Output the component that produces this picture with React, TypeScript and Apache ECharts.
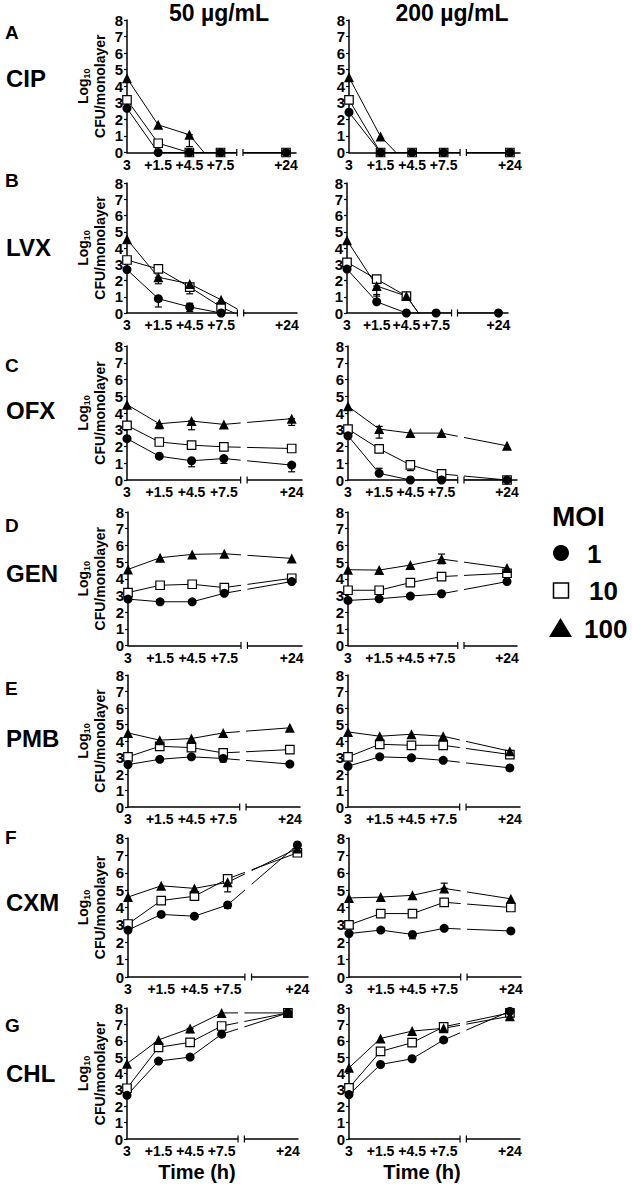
import React, { useEffect, useRef } from 'react';
import * as echarts from 'echarts';

// ---------- axis definitions ----------
const TIME_POS = [0, 1, 2, 3, 5.1];
const TIME_LABELS = ['3', '+1.5', '+4.5', '+7.5', '+24'];
const X_MAX = 5.42;
const BREAK_START = 3.52;
const BREAK_END = 3.72;
const Y_MIN = 0;
const Y_MAX = 8;
const Y_STEP = 1;

const MOI_LABELS = ['1', '10', '100'];
const DRUGS = ['CIP', 'LVX', 'OFX', 'GEN', 'PMB', 'CXM', 'CHL'];
const LETTERS = ['A', 'B', 'C', 'D', 'E', 'F', 'G'];
const CONCS = ['50 µg/mL', '200 µg/mL'];

// ---------- data: rows = MOI 1, MOI 10, MOI 100; negative = below detection ----------
const CIP_50 = [
  [2.67, 0, 0, 0, 0],
  [3.18, 0.56, 0, 0, 0],
  [4.48, 1.67, 1.07, -1.2, -1.2],
];
const CIP_200 = [
  [2.43, 0, 0, 0, 0],
  [3.18, 0, 0, 0, 0],
  [4.54, 0.96, -1, -1, -1],
];
const LVX_50 = [
  [2.67, 0.88, 0.37, 0, -1.5],
  [3.26, 2.71, 1.59, 0.37, -1.5],
  [4.54, 2.2, 1.79, 0.81, -1.5],
];
const LVX_200 = [
  [2.7, 0.69, 0, 0, 0],
  [3.12, 2.08, 1.04, -1.5, -1.5],
  [4.47, 1.66, 1.04, -1.5, -1.5],
];
const OFX_50 = [
  [2.47, 1.42, 1.15, 1.28, 0.89],
  [3.26, 2.27, 2.08, 1.98, 1.88],
  [4.5, 3.36, 3.52, 3.32, 3.66],
];
const OFX_200 = [
  [2.64, 0.4, 0, 0, 0],
  [3.04, 1.86, 0.9, 0.36, 0],
  [4.4, 3.04, 2.8, 2.8, 2.04],
];
const GEN_50 = [
  [2.78, 2.62, 2.62, 3.13, 3.83],
  [3.17, 3.61, 3.67, 3.47, 4.03],
  [4.56, 5.26, 5.46, 5.5, 5.22],
];
const GEN_200 = [
  [2.7, 2.8, 2.96, 3.1, 3.83],
  [3.31, 3.31, 3.77, 4.13, 4.33],
  [4.54, 4.52, 4.82, 5.18, 4.64],
];
const PMB_50 = [
  [2.57, 2.89, 3.04, 2.94, 2.6],
  [3.04, 3.68, 3.6, 3.28, 3.48],
  [4.49, 4.05, 4.15, 4.49, 4.8],
];
const PMB_200 = [
  [2.47, 3.04, 2.98, 2.83, 2.37],
  [3.04, 3.8, 3.74, 3.74, 3.18],
  [4.55, 4.29, 4.41, 4.29, 3.38],
];
const CXM_50 = [
  [2.7, 3.6, 3.5, 4.15, 7.6],
  [3.05, 4.4, 4.65, 5.65, 7.15],
  [4.6, 5.25, 5.1, 5.45, 7.4],
];
const CXM_200 = [
  [2.5, 2.7, 2.45, 2.8, 2.65],
  [3.0, 3.65, 3.65, 4.3, 4.0],
  [4.55, 4.6, 4.7, 5.1, 4.5],
];
const CHL_50 = [
  [2.67, 4.76, 5.0, 6.4, 7.7],
  [3.1, 5.6, 5.9, 6.9, 7.7],
  [4.6, 6.05, 6.75, 7.7, 7.7],
];
const CHL_200 = [
  [2.71, 4.55, 4.9, 6.05, 7.8],
  [3.12, 5.35, 5.88, 6.85, 7.7],
  [4.35, 6.14, 6.59, 6.76, 7.5],
];

// error bars: [moiIndex, timeIndex, low, high]
const CIP_50_ERR = [[2, 2, 0.36, 1.07]];
const CIP_200_ERR: number[][] = [];
const LVX_50_ERR = [[0, 1, 0.37, 0.88], [0, 2, 0.1, 0.6], [2, 1, 1.8, 2.2], [1, 2, 1.18, 1.59]];
const LVX_200_ERR = [[2, 1, 1.04, 1.66], [0, 1, 0.69, 1.14]];
const OFX_50_ERR = [[2, 1, 3.06, 3.36], [2, 2, 3.0, 3.52], [2, 4, 3.26, 3.66], [0, 2, 0.79, 1.15], [0, 3, 0.99, 1.28], [0, 4, 0.49, 0.89]];
const OFX_200_ERR = [[2, 1, 2.5, 3.2], [1, 2, 0.56, 0.9], [0, 1, 0.4, 0.7]];
const GEN_50_ERR: number[][] = [];
const GEN_200_ERR = [[2, 3, 4.9, 5.48]];
const PMB_50_ERR = [[0, 3, 2.73, 2.94]];
const PMB_200_ERR: number[][] = [];
const CXM_50_ERR = [[2, 3, 4.9, 5.45], [0, 3, 3.95, 4.15]];
const CXM_200_ERR = [[2, 3, 5.1, 5.4], [0, 2, 2.2, 2.45]];
const CHL_50_ERR = [[2, 2, 6.5, 6.75]];
const CHL_200_ERR: number[][] = [];

const PANEL_DATA = [
  [CIP_50, CIP_200], [LVX_50, LVX_200], [OFX_50, OFX_200], [GEN_50, GEN_200],
  [PMB_50, PMB_200], [CXM_50, CXM_200], [CHL_50, CHL_200],
];
const PANEL_ERR = [
  [CIP_50_ERR, CIP_200_ERR], [LVX_50_ERR, LVX_200_ERR], [OFX_50_ERR, OFX_200_ERR], [GEN_50_ERR, GEN_200_ERR],
  [PMB_50_ERR, PMB_200_ERR], [CXM_50_ERR, CXM_200_ERR], [CHL_50_ERR, CHL_200_ERR],
];

// ---------- layout ----------
const ROW_TOP = [20, 183, 346, 512, 675, 838, 1008];
const ROW_H = [132.5, 130, 134, 133.5, 132, 139, 131];
const COL_LEFT = [[127, 349], [127, 347], [127, 348], [128, 348], [128, 348], [128, 349], [127, 349]];
const COL_W = [[169, 171], [170, 161], [175, 169], [174, 169], [172, 172], [180, 172], [171, 171]];
const LETTER_Y = [32, 180, 365, 525, 688, 837, 1025];
const NAME_Y = [78, 247, 410, 573, 738, 902, 1073];

const FONT = '"Liberation Sans", Arial, Helvetica, sans-serif';
const SYMBOLS = ['circle', 'rect', 'triangle'];
const SYM_SIZE = [9, 8.5, 10];
const DRAW_ORDER = [1, 2, 0];

function buildOption() {
  const grids: any[] = [];
  const xAxes: any[] = [];
  const yAxes: any[] = [];
  const series: any[] = [];
  const graphic: any[] = [];

  PANEL_DATA.forEach((pair, r) => {
    pair.forEach((data, c) => {
      const idx = grids.length;
      grids.push({
        left: COL_LEFT[r][c], top: ROW_TOP[r], width: COL_W[r][c], height: ROW_H[r],
        containLabel: false, outerBoundsMode: 'none',
      });
      xAxes.push({
        gridIndex: idx, type: 'value', min: 0, max: X_MAX,
        splitLine: { show: false },
        axisTick: { show: false },
        axisLine: { show: true, onZero: false, lineStyle: { color: '#000', width: 1.5 } },
        axisLabel: {
          customValues: TIME_POS,
          formatter: (v: number) => {
            const i = TIME_POS.indexOf(v);
            return i >= 0 ? TIME_LABELS[i] : '';
          },
          color: '#000', fontFamily: FONT, fontWeight: 'bold', fontSize: 14, margin: 5,
        },
      });
      yAxes.push({
        gridIndex: idx, type: 'value', min: Y_MIN, max: Y_MAX, interval: Y_STEP,
        splitLine: { show: false },
        axisLine: { show: true, lineStyle: { color: '#000', width: 1.5 } },
        axisTick: { show: true, length: 3, lineStyle: { color: '#000', width: 1.2 } },
        axisLabel: { color: '#000', fontFamily: FONT, fontWeight: 'bold', fontSize: 15, margin: 4 },
      });
      // error bars (under markers)
      const errs = PANEL_ERR[r][c];
      series.push({
        type: 'custom', xAxisIndex: idx, yAxisIndex: idx, silent: true, z: 1,
        data: errs.map((e) => [TIME_POS[e[1]], e[2], e[3]]),
        encode: { x: 0, y: [1, 2] },
        renderItem: (_p: any, api: any) => {
          const x = api.value(0);
          const a = api.coord([x, api.value(1)]);
          const b = api.coord([x, api.value(2)]);
          const st = { stroke: '#000', lineWidth: 1.2 };
          return {
            type: 'group',
            children: [
              { type: 'line', shape: { x1: a[0], y1: a[1], x2: b[0], y2: b[1] }, style: st },
              { type: 'line', shape: { x1: a[0] - 3.5, y1: a[1], x2: a[0] + 3.5, y2: a[1] }, style: st },
              { type: 'line', shape: { x1: b[0] - 3.5, y1: b[1], x2: b[0] + 3.5, y2: b[1] }, style: st },
            ],
          };
        },
      });
      DRAW_ORDER.forEach((m) => {
        series.push({
          type: 'line', name: MOI_LABELS[m], xAxisIndex: idx, yAxisIndex: idx, silent: true,
          clip: true, z: 2,
          data: TIME_POS.map((x, i) => [x, data[m][i]]),
          symbol: SYMBOLS[m], symbolSize: SYM_SIZE[m], showAllSymbol: true,
          lineStyle: { color: '#000', width: 1 },
          itemStyle: m === 1
            ? { color: '#fff', borderColor: '#000', borderWidth: 1.2 }
            : { color: '#000', borderColor: '#000', borderWidth: 0 },
          emphasis: { disabled: true },
        });
      });
      // axis break
      series.push({
        type: 'custom', xAxisIndex: idx, yAxisIndex: idx, silent: true, z: 5,
        data: [[BREAK_START, Y_MIN]],
        renderItem: (_p: any, api: any) => {
          const p0 = api.coord([BREAK_START, Y_MAX]);
          const p1 = api.coord([BREAK_END, Y_MIN]);
          const st = { stroke: '#000', lineWidth: 1.2 };
          return {
            type: 'group',
            children: [
              { type: 'rect', shape: { x: p0[0], y: p0[1], width: p1[0] - p0[0], height: p1[1] - p0[1] + 3 }, style: { fill: '#fff' } },
              { type: 'line', shape: { x1: p0[0], y1: p1[1] - 3.5, x2: p0[0], y2: p1[1] + 3.5 }, style: st },
              { type: 'line', shape: { x1: p1[0], y1: p1[1] - 3.5, x2: p1[0], y2: p1[1] + 3.5 }, style: st },
            ],
          };
        },
      });
    });

    // row labels
    graphic.push({
      type: 'text', x: 5, y: LETTER_Y[r], z: 20,
      style: { text: LETTERS[r], font: `bold 19px ${FONT}`, fill: '#000', align: 'left', verticalAlign: 'middle', textAlign: 'left', textVerticalAlign: 'middle' },
    });
    graphic.push({
      type: 'text', x: 6, y: NAME_Y[r], z: 20,
      style: { text: DRUGS[r], font: `bold 24px ${FONT}`, fill: '#000', align: 'left', verticalAlign: 'middle', textAlign: 'left', textVerticalAlign: 'middle' },
    });
    // y axis name
    graphic.push({
      type: 'text', x: 91, y: ROW_TOP[r] + ROW_H[r] / 2, rotation: Math.PI / 2, z: 20,
      style: {
        text: '{a|Log}{b|10}\n{c|CFU/monolayer}',
        align: 'center', verticalAlign: 'middle', textAlign: 'center', textVerticalAlign: 'middle',
        fill: '#000',
        rich: {
          a: { fontFamily: FONT, fontWeight: 'bold', fontSize: 14, lineHeight: 17, fill: '#000' },
          b: { fontFamily: FONT, fontWeight: 'bold', fontSize: 9, lineHeight: 10, verticalAlign: 'bottom', fill: '#000' },
          c: { fontFamily: FONT, fontWeight: 'bold', fontSize: 14, lineHeight: 17, fill: '#000' },
        },
      },
    });
  });

  // column titles
  const titleX = [219, 452];
  CONCS.forEach((t, i) => {
    graphic.push({
      type: 'text', x: titleX[i], y: 13, z: 20,
      style: { text: t, font: `bold 23px ${FONT}`, fill: '#000', align: 'center', verticalAlign: 'middle', textAlign: 'center', textVerticalAlign: 'middle' },
    });
  });
  const timeX = [197, 422];
  timeX.forEach((x) => {
    graphic.push({
      type: 'text', x, y: 1172, z: 20,
      style: { text: 'Time (h)', font: `bold 20px ${FONT}`, fill: '#000', align: 'center', verticalAlign: 'middle', textAlign: 'center', textVerticalAlign: 'middle' },
    });
  });

  // legend
  const lt = (text: string, x: number, y: number, size: number) => ({
    type: 'text', x, y, z: 20,
    style: { text, font: `bold ${size}px ${FONT}`, fill: '#000', align: 'left', verticalAlign: 'middle', textAlign: 'left', textVerticalAlign: 'middle' },
  });
  graphic.push(lt('MOI', 552, 516, 28));
  graphic.push({ type: 'circle', z: 20, shape: { cx: 561, cy: 553, r: 8 }, style: { fill: '#000' } });
  graphic.push(lt(MOI_LABELS[0], 587, 554, 26));
  graphic.push({ type: 'rect', z: 20, shape: { x: 553.5, y: 583, width: 15, height: 15 }, style: { fill: '#fff', stroke: '#000', lineWidth: 1.5 } });
  graphic.push(lt(MOI_LABELS[1], 589, 591, 26));
  graphic.push({ type: 'polygon', z: 20, shape: { points: [[549, 637], [572, 637], [560.5, 618]] }, style: { fill: '#000' } });
  graphic.push(lt(MOI_LABELS[2], 584, 629, 26));

  return {
    animation: false,
    backgroundColor: '#fff',
    grid: grids,
    xAxis: xAxes,
    yAxis: yAxes,
    series,
    graphic: { elements: graphic },
  };
}

export default function App() {
  const ref = useRef<HTMLDivElement>(null);
  useEffect(() => {
    document.body.style.margin = '0';
    const chart = echarts.init(ref.current!, null, { renderer: 'svg' });
    chart.setOption(buildOption() as any);
    return () => chart.dispose();
  }, []);
  return <div ref={ref} style={{ width: 632, height: 1191 }} />;
}
